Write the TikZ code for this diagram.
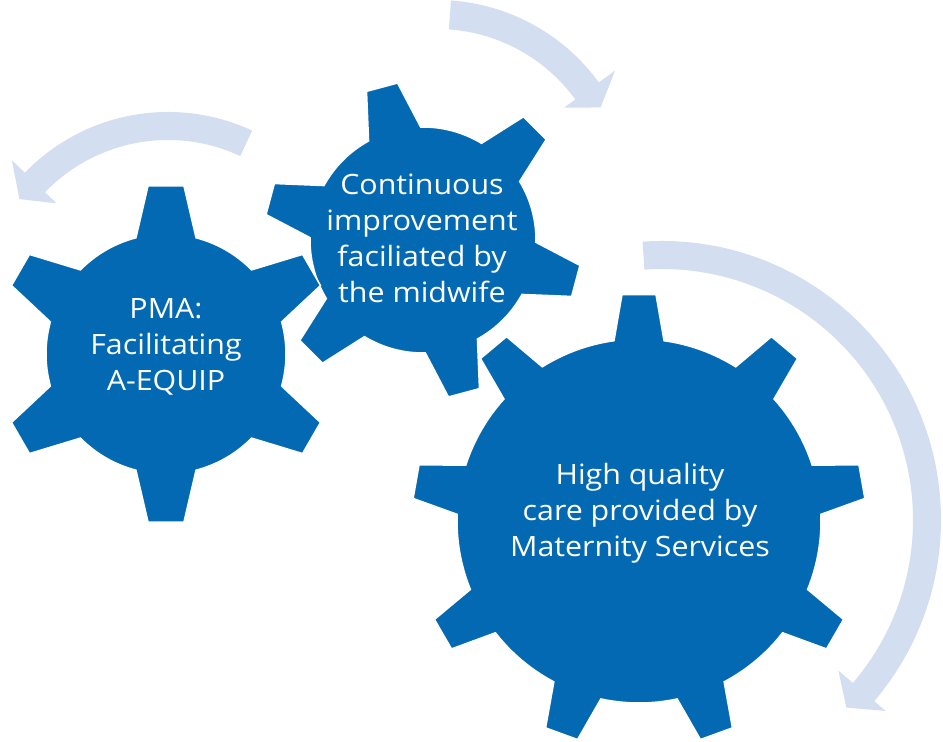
\documentclass[tikz,border=0pt]{standalone}
\usepackage{fontspec}
\setmainfont[FakeStretch=1.085]{Open Sans}
\usetikzlibrary{calc}
\definecolor{gearblue}{HTML}{0369B3}
\definecolor{arrowblue}{HTML}{D3DEF1}
\tikzset{
  gearshape/.style={fill=gearblue, draw=white, line width=1.5pt, line join=miter},
  arrowshape/.style={fill=arrowblue, draw=none},
  geartext/.style={text=white, align=center, font=\fontsize{28}{36}\selectfont, inner sep=0pt}
}
% #1 centre, #2 body radius, #3 tip radius, #4 half base angle, #5 half tip angle, #6 teeth, #7 first tooth angle
\newcommand{\gearpath}[7]{%
  \pgfmathsetmacro\gstep{360/#6}%
  \path[gearshape] ($(#1)+({#7-#4}:#2)$)
    foreach \k in {1,...,#6} {
      -- ($(#1)+({#7+(\k-1)*\gstep-#5}:#3)$)
      -- ($(#1)+({#7+(\k-1)*\gstep+#5}:#3)$)
      -- ($(#1)+({#7+(\k-1)*\gstep+#4}:#2)$)
      arc[start angle={#7+(\k-1)*\gstep+#4}, end angle={#7+\k*\gstep-#4}, radius=#2]
    } -- cycle;
}
% #1 centre, #2 inner r, #3 outer r, #4 tail angle, #5 head base angle, #6 tip angle, #7 tip r, #8 inner barb r, #9 outer barb r
\newcommand{\arcarrow}[9]{%
  \fill[arrowshape] ($(#1)+(#4:#3)$) arc[start angle=#4, end angle=#5, radius=#3]
    -- ($(#1)+(#5:#9)$) -- ($(#1)+(#6:#7)$) -- ($(#1)+(#5:#8)$)
    -- ($(#1)+(#5:#2)$) arc[start angle=#5, end angle=#4, radius=#2] -- cycle;
}
\begin{document}
\begin{tikzpicture}[x=1pt,y=1pt]
  \fill[white] (0,0) rectangle (943,742);
  \useasboundingbox (0,0) rectangle (943,742);
  % centres
  \coordinate (arrA) at (168,431);
  \coordinate (arrB) at (437,542);
  \coordinate (arrC) at (662,222);
  \coordinate (g1) at (166,388);
  \coordinate (g2) at (423,502);
  \coordinate (g3) at (639,221);
  % arrows
  \arcarrow{arrA}{171}{199}{65}{136}{143}{186}{155}{217}
  \arcarrow{arrB}{171}{200}{86}{36}{29.5}{188}{157}{220}
  \arcarrow{arrC}{251}{279}{94}{-40.5}{-45.5}{263}{232}{294}
  % gears
  \gearpath{g3}{182}{227}{7.9}{4.3}{9}{90}
  \gearpath{g2}{113}{159}{13.8}{5.8}{6}{45}
  \gearpath{g1}{120}{169}{14.5}{6.1}{6}{30}
  % texts
  \node[geartext] (t1) at (166,395) {PMA:\\Facilitating\\A-EQUIP};
  \node[geartext] (t2) at (422,503.5) {Continuous\\improvement\\faciliated by\\the midwife};
  \node[geartext] (t3) at (640,229) {High quality\\care provided by\\Maternity Services};
\end{tikzpicture}
\end{document}
